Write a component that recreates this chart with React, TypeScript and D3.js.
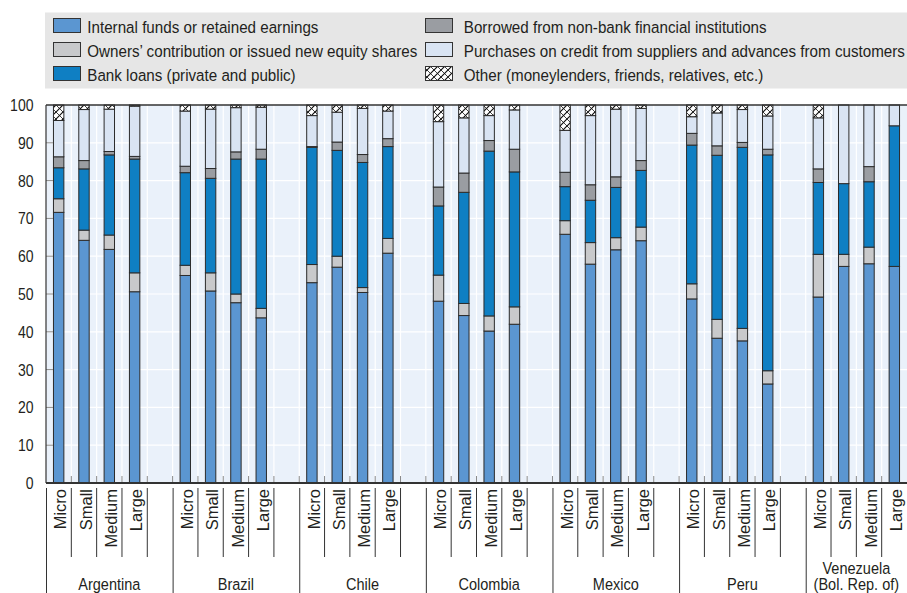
import React from "react";
import * as d3 from "d3";

const countries = ["Argentina", "Brazil", "Chile", "Colombia", "Mexico", "Peru", "Venezuela|(Bol. Rep. of)"];
const sizes = ["Micro", "Small", "Medium", "Large"];
const yTicks = [0, 10, 20, 30, 40, 50, 60, 70, 80, 90, 100];

const seriesNames = [
  "Internal funds or retained earnings",
  "Owners\u2019 contribution or issued new equity shares",
  "Bank loans (private and public)",
  "Borrowed from non-bank financial institutions",
  "Purchases on credit from suppliers and advances from customers",
  "Other (moneylenders, friends, relatives, etc.)",
];

const internal = [71.6, 64.2, 61.8, 50.6, 54.9, 50.8, 47.7, 43.7, 53.0, 57.1, 50.4, 60.8, 48.1, 44.3, 40.2, 42.0, 65.8, 57.9, 61.7, 64.1, 48.7, 38.3, 37.6, 26.2, 49.2, 57.3, 58.0, 57.3];
const owners = [3.6, 2.7, 3.8, 5.0, 2.7, 4.8, 2.3, 2.5, 4.8, 2.9, 1.3, 3.9, 6.9, 3.2, 4.0, 4.6, 3.6, 5.7, 3.2, 3.6, 4.0, 5.0, 3.3, 3.5, 11.3, 3.2, 4.4, 0];
const bank = [8.2, 16.2, 21.2, 30.1, 24.5, 25.0, 35.7, 39.5, 31.0, 28.0, 33.1, 24.3, 18.3, 29.4, 43.6, 35.7, 9.0, 11.2, 13.3, 15.0, 36.7, 43.4, 47.9, 57.1, 19.0, 18.7, 17.3, 37.2];
const nonbank = [2.9, 2.2, 0.9, 0.7, 1.7, 2.6, 1.9, 2.6, 0.2, 2.2, 2.1, 2.1, 5.0, 5.1, 2.8, 6.0, 3.8, 4.1, 2.8, 2.6, 3.1, 2.5, 1.3, 1.5, 3.6, 0, 4.0, 0];
const credit = [9.6, 13.5, 11.2, 13.3, 14.6, 15.7, 11.7, 11.1, 8.2, 7.9, 12.2, 7.3, 17.3, 14.6, 6.6, 10.4, 11.1, 18.3, 17.9, 13.8, 4.4, 8.7, 8.7, 8.8, 13.5, 20.8, 16.3, 5.5];
const other = [4.1, 1.2, 1.1, 0.3, 1.6, 1.1, 0.7, 0.6, 2.8, 1.9, 0.9, 1.6, 4.4, 3.4, 2.8, 1.3, 6.7, 2.8, 1.1, 0.9, 3.1, 2.1, 1.2, 2.9, 3.4, 0, 0, 0];

const colors = ["#5b96d1", "#c8c9cb", "#0f7fc3", "#9a9da2", "#d9e4f3", "url(#hatch)"];
const keys = ["internal", "owners", "bank", "nonbank", "credit", "other"];

const W = 907, H = 593;
const L = 46, R = 907, T = 105, B = 483;
const FONT = "'Liberation Sans', Arial, sans-serif";
const TXT = "#231f20";

function Txt({ x, y, sx = 0.86, rot = 0, anchor = "start", size = 17, dy = undefined, children }) {
  return (
    <text
      transform={`translate(${x},${y})${rot ? ` rotate(${rot})` : ""} scale(${sx},1)`}
      textAnchor={anchor}
      fontSize={size}
      dy={dy}
      fill={TXT}
    >
      {children}
    </text>
  );
}

export default function App() {
  const nSlots = 34;
  const step = (R - L) / nSlots;
  const bw = 10.4;
  const y = d3.scaleLinear().domain([0, 100]).range([B, T]);

  const rows = [];
  countries.forEach((c, ci) =>
    sizes.forEach((s, si) => {
      const i = ci * 4 + si;
      rows.push({
        slot: ci * 5 + si,
        country: c,
        size: s,
        internal: internal[i],
        owners: owners[i],
        bank: bank[i],
        nonbank: nonbank[i],
        credit: credit[i],
        other: other[i],
      });
    })
  );
  const stacked = d3.stack().keys(keys)(rows);

  const slotX = (k) => L + k * step;
  const boundaries = d3.range(1, nSlots);

  return (
    <svg width={W} height={H} style={{ position: "absolute", left: 0, top: 0, fontFamily: FONT }}>
      <defs>
        <pattern id="hatch" patternUnits="userSpaceOnUse" width="7" height="7">
          <rect width="7" height="7" fill="#fff" />
          <path d="M0,7 L7,0 M-2,2 L2,-2 M5,9 L9,5" stroke="#111" strokeWidth="1.2" />
          <path d="M0,0 L7,7" stroke="#111" strokeWidth="0.8" />
        </pattern>
      </defs>
      <rect x={0} y={0} width={W} height={H} fill="#fff" />
      {/* legend */}
      <rect x={45} y={12.5} width={R - 45} height={76} fill="#e6e6e6" />
      {seriesNames.map((n, i) => {
        const col = i < 3 ? 0 : 1;
        const row = i % 3;
        const sx = col === 0 ? 53.5 : 425.5;
        const tx = col === 0 ? 87.3 : 463.8;
        const by = 32.5 + row * 24;
        return (
          <g key={n}>
            <rect x={sx} y={by - 14} width={27} height={14} fill={colors[i]} stroke="#333" strokeWidth={1} />
            <Txt x={tx} y={by} sx={0.893}>{n}</Txt>
          </g>
        );
      })}
      {/* plot background */}
      <rect x={L} y={T} width={R - L} height={B - T} fill="#eaf1fa" />
      {yTicks.slice(1, -1).map((t) => (
        <line key={"hg" + t} x1={L} x2={R} y1={y(t)} y2={y(t)} stroke="#fff" strokeWidth={1.2} />
      ))}
      {boundaries.map((k) => (
        <line key={"vg" + k} x1={slotX(k)} x2={slotX(k)} y1={T} y2={B} stroke="#fff" strokeWidth={1.2} />
      ))}
      {/* bars */}
      {stacked.map((layer, li) => (
        <g key={layer.key}>
          {layer.map((d, j) => {
            const h = y(d[0]) - y(d[1]);
            if (h <= 0.01) return null;
            return (
              <rect
                key={j}
                x={slotX(d.data.slot) + (step - bw) / 2}
                y={y(d[1])}
                width={bw}
                height={h}
                fill={colors[li]}
                stroke="#2b2b2b"
                strokeWidth={1}
              />
            );
          })}
        </g>
      ))}
      {/* ticks */}
      {boundaries.map((k) => (
        <line key={"bt" + k} x1={slotX(k)} x2={slotX(k)} y1={B} y2={B - 7} stroke="#8a8a8a" strokeWidth={1} />
      ))}
      {yTicks.slice(1, -1).map((t) => (
        <line key={"yt" + t} x1={L} x2={L + 7} y1={y(t)} y2={y(t)} stroke="#8a8a8a" strokeWidth={1} />
      ))}
      {/* frame */}
      <line x1={L} x2={R} y1={T} y2={T} stroke="#333" strokeWidth={1.5} />
      <line x1={L} x2={L} y1={T} y2={B} stroke="#333" strokeWidth={1.2} />
      <line x1={L} x2={R} y1={B} y2={B} stroke="#333" strokeWidth={2} />
      {/* y labels */}
      {yTicks.map((t) => (
        <Txt key={"yl" + t} x={33.5} y={y(t)} dy="0.36em" anchor="end" sx={0.85} size={16.5}>{t}</Txt>
      ))}
      {/* category labels */}
      {rows.map((r, i) => {
        const cx = slotX(r.slot) + step / 2;
        return (
          <Txt key={"cl" + i} x={cx + 1.5} y={489} rot={-90} dy="0.36em" anchor="end" sx={0.97} size={17}>
            {r.size}
          </Txt>
        );
      })}
      {/* separators */}
      {countries.map((c, ci) =>
        [1, 2, 3, 4].filter((k) => ci * 5 + k < nSlots).map((k) => (
          <line key={"ss" + ci + k} x1={slotX(ci * 5 + k)} x2={slotX(ci * 5 + k)} y1={488} y2={557} stroke="#333" strokeWidth={1} />
        ))
      )}
      {countries.map((c, ci) => (
        <line key={"ls" + ci} x1={slotX(ci * 5) + 0.5} x2={slotX(ci * 5) + 0.5} y1={488} y2={H} stroke="#333" strokeWidth={1} />
      ))}
      {/* country labels */}
      {countries.map((c, ci) => {
        const x0 = slotX(ci * 5);
        const x1 = Math.min(slotX(ci * 5 + 5), R);
        const cx = (x0 + x1) / 2;
        const lines = c.split("|");
        return (
          <g key={"cn" + ci}>
            {lines.map((ln, li) => (
              <Txt key={li} x={cx} y={590 - (lines.length - 1 - li) * 16.5} anchor="middle" sx={0.88} size={16.5}>
                {ln}
              </Txt>
            ))}
          </g>
        );
      })}
    </svg>
  );
}
